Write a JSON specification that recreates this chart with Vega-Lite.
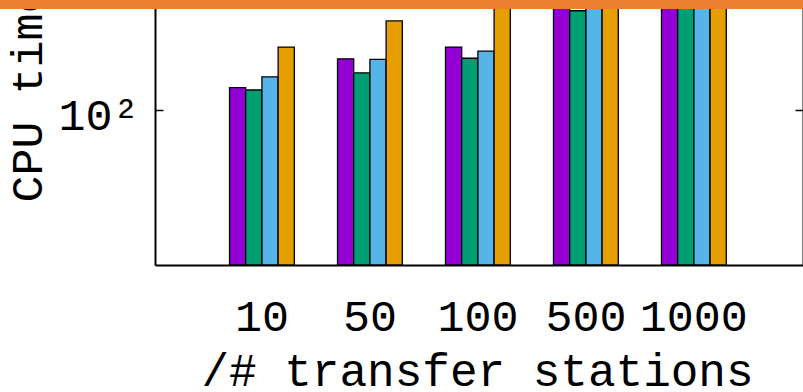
{
  "$schema": "https://vega.github.io/schema/vega-lite/v6.json",
  "width": 803,
  "height": 265,
  "autosize": {"type": "none"},
  "padding": {"left": 0, "top": 0, "right": 0, "bottom": 127},
  "background": "white",
  "config": {
    "view": {"stroke": null},
    "font": "Liberation Mono",
    "axis": {
      "labelFont": "Liberation Mono",
      "titleFont": "Liberation Mono",
      "labelColor": "black",
      "titleColor": "black",
      "titleFontWeight": "normal",
      "domainColor": "black",
      "tickColor": "black"
    }
  },
  "data": {
    "values": [
      {"stations": "10", "method": "m1", "cpu": 126},
      {"stations": "10", "method": "m2", "cpu": 123},
      {"stations": "10", "method": "m3", "cpu": 141},
      {"stations": "10", "method": "m4", "cpu": 192},
      {"stations": "50", "method": "m1", "cpu": 170},
      {"stations": "50", "method": "m2", "cpu": 147},
      {"stations": "50", "method": "m3", "cpu": 169},
      {"stations": "50", "method": "m4", "cpu": 252},
      {"stations": "100", "method": "m1", "cpu": 192},
      {"stations": "100", "method": "m2", "cpu": 171},
      {"stations": "100", "method": "m3", "cpu": 184},
      {"stations": "100", "method": "m4", "cpu": 420},
      {"stations": "500", "method": "m1", "cpu": 460},
      {"stations": "500", "method": "m2", "cpu": 280},
      {"stations": "500", "method": "m3", "cpu": 390},
      {"stations": "500", "method": "m4", "cpu": 610},
      {"stations": "1000", "method": "m1", "cpu": 720},
      {"stations": "1000", "method": "m2", "cpu": 650},
      {"stations": "1000", "method": "m3", "cpu": 680},
      {"stations": "1000", "method": "m4", "cpu": 950}
    ]
  },
  "resolve": {"axis": {"y": "independent"}},
  "layer": [
    {
      "mark": {"type": "bar", "stroke": "black", "strokeWidth": 1.3},
      "encoding": {
        "x": {
          "field": "stations",
          "type": "nominal",
          "scale": {
            "domain": [" ", "10", "50", "100", "500", "1000"],
            "paddingInner": 0.4,
            "paddingOuter": 0.918,
            "align": 0.613
          },
          "axis": {
            "title": "/# transfer stations",
            "labelAngle": 0,
            "labelFontSize": 45,
            "labelBaseline": "alphabetic",
            "labelPadding": 65,
            "labelOverlap": false,
            "labelBound": false,
            "ticks": false,
            "tickSize": 0,
            "domainWidth": 2,
            "domainDash": [0, 155, 660],
            "titleFontSize": 46,
            "titleBaseline": "alphabetic",
            "titleAlign": "center",
            "titleX": 477,
            "titleY": 120
          }
        },
        "xOffset": {"field": "method", "type": "nominal", "sort": ["m1", "m2", "m3", "m4"]},
        "y": {
          "field": "cpu",
          "type": "quantitative",
          "scale": {"type": "log", "domain": [20, 313], "nice": false},
          "axis": {
            "orient": "left",
            "offset": -155,
            "values": [100],
            "labelExpr": "'10²'",
            "labelFontSize": 45,
            "labelBaseline": "alphabetic",
            "labelOffset": 20,
            "labelPadding": 24,
            "tickSize": -8,
            "tickWidth": 1.5,
            "domainWidth": 2,
            "grid": false,
            "title": "CPU time (s)",
            "titleFontSize": 45,
            "titleAngle": -90,
            "titleBaseline": "alphabetic",
            "titleAlign": "center",
            "titleX": -114,
            "titleY": 40
          }
        },
        "y2": {"datum": 20},
        "color": {
          "field": "method",
          "type": "nominal",
          "scale": {"domain": ["m1", "m2", "m3", "m4"], "range": ["#9400D3", "#009E73", "#56B4E9", "#E69F00"]},
          "legend": null
        }
      }
    },
    {
      "mark": {"type": "rule", "color": "#ED7D31", "strokeWidth": 18, "clip": false},
      "encoding": {
        "y": {
          "datum": 313,
          "type": "quantitative",
          "scale": {"type": "log", "domain": [20, 313], "nice": false},
          "axis": {
            "orient": "right",
            "values": [100],
            "labels": false,
            "tickSize": -8,
            "tickWidth": 1.5,
            "domainWidth": 2,
            "grid": false,
            "title": null
          }
        }
      }
    }
  ]
}
